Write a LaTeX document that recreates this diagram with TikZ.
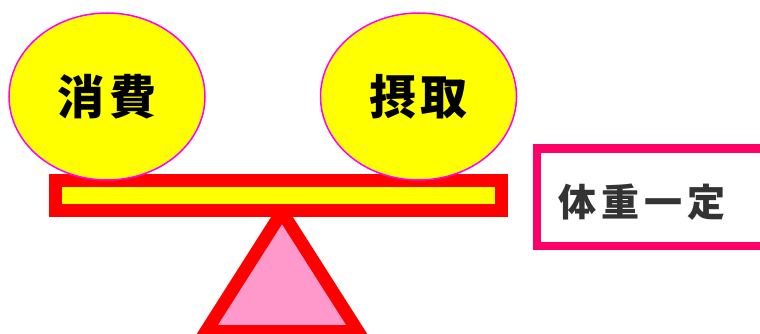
\documentclass[tikz,border=0pt]{standalone}
\usepackage{fontspec}
\usetikzlibrary{shapes.geometric}
\newfontfamily\jpfont{Noto Sans CJK JP}[LetterSpace=10]
\newfontfamily\jpfontwide{Noto Sans CJK JP}[LetterSpace=14]
\definecolor{panfill}{HTML}{FFFF00}
\definecolor{panedge}{HTML}{FF00FF}
\definecolor{beamred}{HTML}{FF0000}
\definecolor{fulcrum}{HTML}{FF99CC}
\definecolor{frameedge}{HTML}{FF0066}
\definecolor{labelgray}{HTML}{333333}
\begin{document}
\begin{tikzpicture}[x=1pt,y=-1pt,
    pan/.style={ellipse, draw=panedge, fill=panfill, line width=1.5pt,
      minimum width=196pt, minimum height=167pt, inner sep=0pt,
      font=\jpfont\bfseries\fontsize{47pt}{47pt}\selectfont},
    beam/.style={draw=beamred, fill=panfill, line width=13pt,
      minimum width=446pt, minimum height=30pt, inner sep=0pt}]
    \clip (0,0) rectangle (760,334);
    %% fulcrum under the beam
    \filldraw[draw=beamred, fill=fulcrum, line width=13pt, miter limit=10] (282,212) -- (206,331.5) -- (358,331.5) -- cycle;
    \node[beam] (bar) at (278,195.5) {};
    %% the two pans
    \node[pan] (use) at (107,96.5) {消費};
    \node[pan] (intake) at (418.5,96.5) {摂取};
    %% frame on the right
    \node[draw=frameedge, line width=8pt, minimum width=240pt, minimum height=97.5pt, inner sep=0pt, outer sep=0pt, anchor=west] (frame) at (536.5,197.25) {};
    \node[text=labelgray, font=\jpfontwide\bfseries\fontsize{38pt}{38pt}\selectfont] (weight) at (642,202) {体重一定};
\end{tikzpicture}
\end{document}
